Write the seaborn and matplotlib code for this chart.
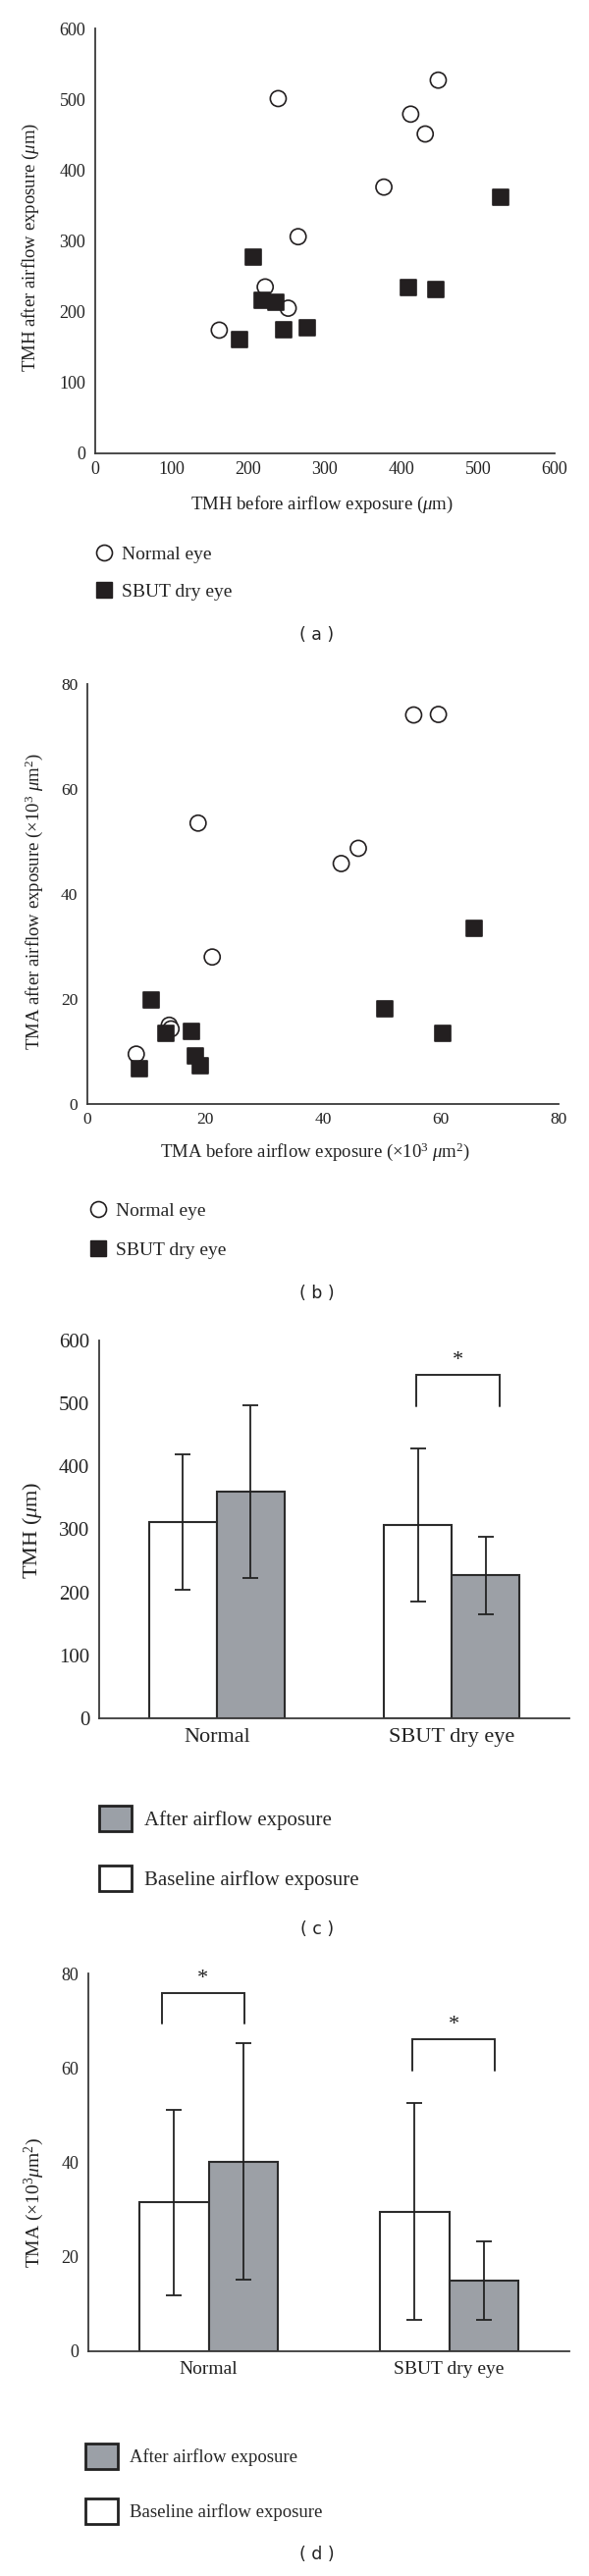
import numpy as np
import pandas as pd
import matplotlib
matplotlib.use("Agg")
import matplotlib.pyplot as plt
import seaborn as sns
from matplotlib.lines import Line2D
from matplotlib.patches import Patch

# ---------------- data ----------------
scatter_groups = ["Normal eye", "SBUT dry eye"]

tmh_normal_before = [239, 448, 412, 431, 377, 265, 222, 252, 162]
tmh_normal_after = [501, 527, 479, 451, 376, 306, 235, 205, 174]
tmh_sbut_before = [206, 218, 236, 188, 246, 277, 409, 445, 529]
tmh_sbut_after = [277, 216, 213, 161, 175, 177, 234, 231, 362]

tma_normal_before = [55.4, 59.6, 18.8, 46.0, 43.1, 21.2, 13.9, 14.2, 8.3]
tma_normal_after = [74.1, 74.2, 53.5, 48.7, 45.8, 28.0, 15.0, 14.3, 9.5]
tma_sbut_before = [65.6, 50.5, 60.4, 10.9, 13.4, 17.6, 18.4, 19.2, 8.8]
tma_sbut_after = [33.4, 18.2, 13.5, 19.8, 13.4, 13.8, 9.2, 7.35, 6.7]

bar_groups = ["Normal", "SBUT dry eye"]
conditions = ["Baseline airflow exposure", "After airflow exposure"]

tmh_mean_baseline = [312, 307]
tmh_sd_baseline = [108, 122]
tmh_mean_after = [360, 227]
tmh_sd_after = [137, 62]

tma_mean_baseline = [31.5, 29.6]
tma_sd_baseline = [19.6, 22.9]
tma_mean_after = [40.2, 14.9]
tma_sd_after = [25.0, 8.3]

# significance brackets: (x_left, x_right, leg_bottom, top)
tmh_brackets = [(0.849, 1.202, 496, 546)]
tma_brackets = [(-0.195, 0.148, 69.4, 75.9), (0.848, 1.189, 59.4, 66.1)]

# ---------------- style ----------------
sns.set_style("white")
plt.rcParams["font.family"] = ["Liberation Serif", "DejaVu Serif"]
plt.rcParams["mathtext.fontset"] = "custom"
plt.rcParams["mathtext.rm"] = "Liberation Serif"
plt.rcParams["mathtext.it"] = "Liberation Serif:italic"

W, H = 600, 2625
fig = plt.figure(figsize=(W / 100, H / 100), dpi=100)
fig.patch.set_facecolor("white")

INK = "#231f20"
AXC = "#3a3a3a"
GRAY = "#9ba0a7"


def rect(l, t, r, b):
    return [l / W, 1 - b / H, (r - l) / W, (b - t) / H]


def fx(x):
    return x / W


def fy(y):
    return 1 - y / H


def style_axes(ax, fs):
    for s in ["top", "right"]:
        ax.spines[s].set_visible(False)
    for s in ["left", "bottom"]:
        ax.spines[s].set_color(AXC)
        ax.spines[s].set_linewidth(1.3)
    ax.tick_params(which="both", direction="in", length=6, width=1.1,
                   color=AXC, labelsize=fs, labelcolor="#222222")
    ax.set_facecolor("white")
    ax.grid(False)


def scatter_panel(ax, nb, na, sb, sa, lim, step, fs):
    df = pd.DataFrame({
        "before": list(nb) + list(sb),
        "after": list(na) + list(sa),
        "group": [scatter_groups[0]] * len(nb) + [scatter_groups[1]] * len(sb),
    })
    sns.scatterplot(data=df, x="before", y="after", hue="group", style="group",
                    markers={scatter_groups[0]: "o", scatter_groups[1]: "s"},
                    palette={scatter_groups[0]: "white", scatter_groups[1]: INK},
                    edgecolor=INK, linewidth=1.2, s=135, legend=False, ax=ax,
                    zorder=3)
    ax.set_xlim(0, lim)
    ax.set_ylim(0, lim)
    ax.set_xticks(np.arange(0, lim + 1, step))
    ax.set_yticks(np.arange(0, lim + 1, step))
    ax.set_xlabel("")
    ax.set_ylabel("")
    style_axes(ax, fs)
    ax.tick_params(axis="x", pad=6)
    ax.tick_params(axis="y", pad=7)
    for sp in ax.spines.values():
        sp.set_clip_on(False)


def bar_panel(ax, mb, sdb, ma, sda, ymax, step, fs, cat_fs, brackets):
    df = pd.DataFrame({
        "group": bar_groups * 2,
        "cond": [conditions[0]] * 2 + [conditions[1]] * 2,
        "value": list(mb) + list(ma),
    })
    sns.barplot(data=df, x="group", y="value", hue="cond", order=bar_groups,
                hue_order=conditions,
                palette={conditions[0]: "white", conditions[1]: GRAY},
                width=0.575, edgecolor="#2b2b2b", linewidth=1.5,
                errorbar=None, legend=False, ax=ax)
    for cont, sds in zip(ax.containers, [sdb, sda]):
        for bar, sd in zip(cont, sds):
            xc = bar.get_x() + bar.get_width() / 2
            ax.errorbar(xc, bar.get_height(), yerr=sd, fmt="none",
                        ecolor="#222222", elinewidth=1.3, capsize=5.5,
                        capthick=1.3, zorder=4)
    for (x0, x1, yl, yt) in brackets:
        ax.plot([x0, x0, x1, x1], [yl, yt, yt, yl], color="#2b2b2b", lw=1.4,
                solid_joinstyle="miter")
        ax.text((x0 + x1) / 2, yt + (ymax * 0.012), "*", ha="center",
                va="bottom", fontsize=16, color="#222222")
    ax.set_xlim(-0.5, 1.5)
    ax.set_ylim(0, ymax)
    ax.set_yticks(np.arange(0, ymax + 1, step))
    ax.set_xticks([0, 1])
    ax.set_xticklabels(bar_groups)
    ax.set_xticks([0.5, 1.5], minor=True)
    ax.set_xlabel("")
    ax.set_ylabel("")
    style_axes(ax, fs)
    ax.tick_params(axis="x", which="major", length=0, labelsize=cat_fs, pad=7)
    ax.tick_params(axis="x", which="minor", length=7)
    ax.tick_params(axis="y", pad=7)


def marker_legend(x_left, ys, fs):
    hs = [Line2D([], [], marker="o", ls="", ms=11.5, mfc="white", mec=INK, mew=1.2),
          Line2D([], [], marker="s", ls="", ms=11.5, mfc=INK, mec=INK, mew=1.0)]
    for h, lab, y in zip(hs, scatter_groups, ys):
        fig.legend([h], [lab], loc="center left", bbox_to_anchor=(fx(x_left), fy(y)),
                   frameon=False, borderpad=0, borderaxespad=0, fontsize=fs,
                   handlelength=1.0, handletextpad=0.45)


def patch_legend(x_left, ys, fs, hl, hh, pad):
    hs = [Patch(facecolor=GRAY, edgecolor="#222222", linewidth=2.0),
          Patch(facecolor="white", edgecolor="#222222", linewidth=2.0)]
    labs = [conditions[1], conditions[0]]
    for h, lab, y in zip(hs, labs, ys):
        fig.legend([h], [lab], loc="center left", bbox_to_anchor=(fx(x_left), fy(y)),
                   frameon=False, borderpad=0, borderaxespad=0, fontsize=fs,
                   handlelength=hl, handleheight=hh, handletextpad=pad)


PANEL_FS = 12.5

# ---------------- panel (a) ----------------
ax_a = fig.add_axes(rect(97, 29, 565, 462))
scatter_panel(ax_a, tmh_normal_before, tmh_normal_after, tmh_sbut_before,
              tmh_sbut_after, 600, 100, 13)
fig.text(fx(328), fy(514), r"TMH before airflow exposure ($\mu$m)", ha="center",
         va="center", fontsize=13.5, color="#222222")
fig.text(fx(31), fy(252), r"TMH after airflow exposure ($\mu$m)", ha="center",
         va="center", rotation=90, fontsize=13.5, color="#222222")
marker_legend(96, [565, 603], 14)
fig.text(fx(323), fy(647), "( a )", family="DejaVu Sans", fontsize=PANEL_FS,
         ha="center", va="center", color="#222222")

# ---------------- panel (b) ----------------
ax_b = fig.add_axes(rect(89, 697, 569, 1125))
scatter_panel(ax_b, tma_normal_before, tma_normal_after, tma_sbut_before,
              tma_sbut_after, 80, 20, 12.5)
fig.text(fx(321), fy(1174), r"TMA before airflow exposure ($\times$10$^3$ $\mu$m$^2$)",
         ha="center", va="center", fontsize=13.5, color="#222222")
fig.text(fx(35), fy(919), r"TMA after airflow exposure ($\times$10$^3$ $\mu$m$^2$)",
         ha="center", va="center", rotation=90, fontsize=13.5, color="#222222")
marker_legend(90, [1234, 1274], 14)
fig.text(fx(323), fy(1318), "( b )", family="DejaVu Sans", fontsize=PANEL_FS,
         ha="center", va="center", color="#222222")

# ---------------- panel (c) ----------------
ax_c = fig.add_axes(rect(101, 1366, 580, 1751))
bar_panel(ax_c, tmh_mean_baseline, tmh_sd_baseline, tmh_mean_after, tmh_sd_after,
          600, 100, 15, 16, tmh_brackets)
fig.text(fx(33), fy(1559), r"TMH ($\mu$m)", ha="center", va="center",
         rotation=90, fontsize=16, color="#222222")
patch_legend(101, [1853, 1914], 15, 1.58, 1.49, 0.64)
fig.text(fx(323), fy(1966), "( c )", family="DejaVu Sans", fontsize=PANEL_FS,
         ha="center", va="center", color="#222222")

# ---------------- panel (d) ----------------
ax_d = fig.add_axes(rect(90, 2011, 580, 2396))
bar_panel(ax_d, tma_mean_baseline, tma_sd_baseline, tma_mean_after, tma_sd_after,
          80, 20, 13, 14, tma_brackets)
fig.text(fx(35), fy(2245), r"TMA ($\times$10$^3$$\mu$m$^2$)", ha="center",
         va="center", rotation=90, fontsize=14, color="#222222")
patch_legend(87, [2503, 2559], 13.5, 1.76, 1.76, 0.64)
fig.text(fx(323), fy(2603), "( d )", family="DejaVu Sans", fontsize=PANEL_FS,
         ha="center", va="center", color="#222222")

fig.savefig("out.png", dpi=100, facecolor="white")
